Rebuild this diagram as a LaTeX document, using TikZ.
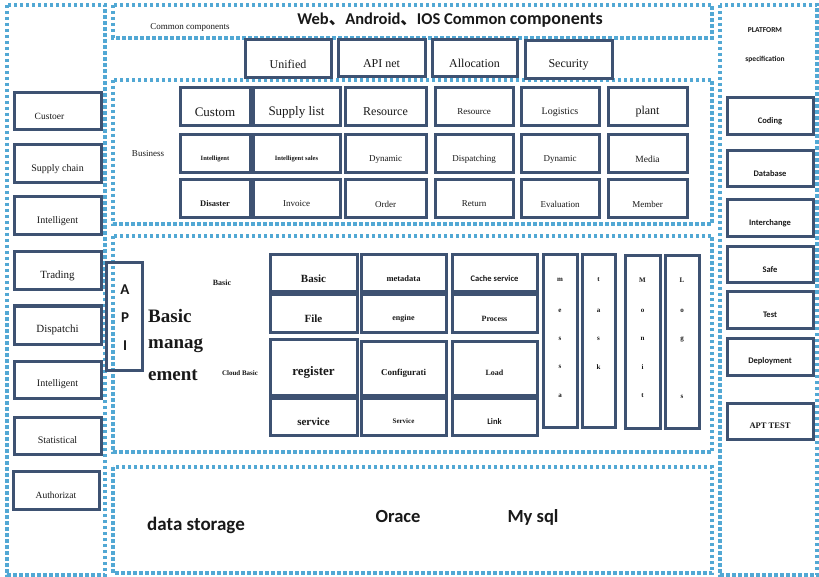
\documentclass[tikz,border=0pt]{standalone}
\usepackage{fontspec}
\setmainfont{Liberation Serif}
\newfontfamily\carl{Carlito}
\newfontfamily\cjk{Noto Sans CJK SC}
\definecolor{boxc}{RGB}{62,82,114}
\definecolor{dotc}{RGB}{82,168,212}
\definecolor{txt}{RGB}{25,25,25}
\tikzset{
  box/.style={draw=boxc,line width=3pt,inner sep=0pt,text=txt},
  dotbox/.style={draw=dotc,line width=3.2pt,dash pattern=on 3.5pt off 2.5pt},
  lbl/.style={inner sep=0pt,text=txt},
  fr/.style={font=\fontsize{#1}{#1}\selectfont},
  fb/.style={font=\fontsize{#1}{#1}\selectfont\bfseries},
  sb/.style={font=\carl\fontsize{#1}{#1}\selectfont\bfseries},
}
\newcommand\bx[7][]{\pgfmathsetmacro\bw{#5-#3}\pgfmathsetmacro\bh{#6-#4}%
  \node[box,minimum width=\bw pt,minimum height=\bh pt,#1] (#2) at ({(#3+#5)/2},{(#4+#6)/2}) {\raisebox{-5pt}[\height][\depth]{#7}};}
\begin{document}
\begin{tikzpicture}[x=1pt,y=-1pt]
\fill[white] (0,0) rectangle (819,577);
\useasboundingbox (0,0) rectangle (819,577);
% dotted containers
\draw[dotbox] (7,5) rectangle (105,575);
\draw[dotbox] (113,5) rectangle (712,38);
\draw[dotbox] (113,80) rectangle (712,224);
\draw[dotbox] (113,236) rectangle (712,452);
\draw[dotbox] (113,467) rectangle (712,573);
\draw[dotbox] (720,5) rectangle (817,575);
% top strip
\node[lbl,fr=9] (cc) at (190,27) {Common components};
\node[lbl,sb=16.5] (title) at (450,20) {Web{\cjk 、}Android{\cjk 、}IOS Common {\fontsize{18}{18}\selectfont components}};
\bx[fr=12]{unified}{245}{40}{331}{78}{Unified}
\bx[fr=12]{apinet}{338}{40}{425}{77}{API net}
\bx[fr=12]{alloc}{432}{40}{517}{77}{Allocation}
\bx[fr=12]{secur}{525}{41}{612}{79}{Security}
% left column
\bx[fr=9.5]{l1}{14}{93}{101}{130}{Custoer\hspace{16pt}}
\bx[fr=10]{l2}{14}{145}{101}{183}{Supply chain}
\bx[fr=10]{l3}{14}{197}{101}{235}{Intelligent}
\bx[fr=11]{l4}{14}{252}{101}{290}{Trading}
\bx[fr=11]{l5}{14}{306}{101}{344}{Dispatchi}
\bx[fr=10]{l6}{14}{361}{101}{398}{Intelligent}
\bx[fr=10]{l7}{14}{417}{101}{454}{Statistical}
\bx[fr=9.5]{l8}{13}{471}{99}{509}{Authorizat}
% right column
\node[lbl,sb=7.5] (plat) at (765,30) {PLATFORM};
\node[lbl,sb=7.5] (spec) at (765,59) {specification};
\bx[sb=8.5]{r1}{727}{98}{813}{135}{Coding}
\bx[sb=8.5]{r2}{727}{151}{813}{187}{Database}
\bx[sb=8.5]{r3}{727}{200}{813}{237}{Interchange}
\bx[sb=8.5]{r4}{727}{247}{813}{283}{Safe}
\bx[sb=8.5]{r5}{727}{292}{813}{328}{Test}
\bx[sb=8.5]{r6}{727}{338}{813}{375}{Deployment}
\bx[fb=8.5]{r7}{727}{403}{813}{439}{APT TEST}
% business
\node[lbl,fr=9] (bus) at (148,154) {Business};
\bx[fr=13]{b11}{180}{88}{250}{126}{Custom}
\bx[fr=13]{b12}{253}{88}{340}{126}{Supply list}
\bx[fr=12]{b13}{345}{88}{426}{126}{Resource}
\bx[fr=9]{b14}{435}{88}{513}{126}{Resource}
\bx[fr=10]{b15}{521}{88}{599}{126}{Logistics}
\bx[fr=12]{b16}{608}{88}{687}{126}{plant}
\bx[fb=6.5]{b21}{180}{135}{250}{173}{Intelligent}
\bx[fb=6.5]{b22}{253}{135}{340}{173}{Intelligent sales}
\bx[fr=9]{b23}{345}{135}{426}{173}{Dynamic}
\bx[fr=9]{b24}{435}{135}{513}{173}{Dispatching}
\bx[fr=9]{b25}{521}{135}{599}{173}{Dynamic}
\bx[fr=9.5]{b26}{608}{135}{687}{173}{Media}
\bx[fb=8.5]{b31}{180}{180}{250}{218}{Disaster}
\bx[fr=9]{b32}{253}{180}{340}{218}{Invoice}
\bx[fr=9]{b33}{345}{180}{426}{218}{Order}
\bx[fr=9]{b34}{435}{180}{513}{218}{Return}
\bx[fr=9]{b35}{521}{180}{599}{218}{Evaluation}
\bx[fr=9]{b36}{608}{180}{687}{218}{Member}
% basic
\node[box,minimum width=36pt,minimum height=107pt] (api) at (124,316.5) {};
\node[lbl,sb=15] (apiA) at (125,290) {A};
\node[lbl,sb=15] (apiP) at (125,318) {P};
\node[lbl,sb=15] (apiI) at (125,346) {I};
\node[lbl,fb=19,anchor=west,align=left] (bm1) at (148,316) {Basic};
\node[lbl,fb=19,anchor=west,align=left] (bm2) at (148,346) {manag};
\node[lbl,fb=19,anchor=west,align=left] (bm3) at (148,375) {ement};
\node[lbl,fb=8] (basiclbl) at (222,283) {Basic};
\node[lbl,fb=7] (cloudlbl) at (240,373) {Cloud Basic};
\bx[fb=11]{g11}{270}{255}{357}{292}{Basic}
\bx[fb=11]{g21}{270}{295}{357}{332}{File}
\bx[fb=13]{g31}{270}{339}{357}{395}{register}
\bx[fb=11]{g41}{270}{398}{357}{435}{service}
\bx[fb=8.5]{g12}{361}{255}{446}{292}{metadata}
\bx[fb=8]{g22}{361}{295}{446}{332}{engine}
\bx[fb=9]{g32}{361}{341}{446}{395}{Configurati}
\bx[fb=7]{g42}{361}{398}{446}{435}{Service}
\bx[sb=8.5]{g13}{452}{255}{537}{292}{Cache service}
\bx[fb=8]{g23}{452}{295}{537}{332}{Process}
\bx[fb=8]{g33}{452}{341}{537}{395}{Load}
\bx[sb=8.5]{g43}{452}{398}{537}{435}{Link}
\node[box,minimum width=34pt,minimum height=172pt] (v1) at (560,341) {};
\node[box,minimum width=33pt,minimum height=172pt] (v2) at (598.5,341) {};
\node[box,minimum width=35pt,minimum height=172pt] (v3) at (642.5,342) {};
\node[box,minimum width=34pt,minimum height=172pt] (v4) at (682,342) {};
\foreach \l/\yy [count=\i] in {m/280,e/311,s/339,s/367,a/396}
  \node[lbl,fb=7] (v1l\i) at (560,\yy) {\l};
\foreach \l/\yy [count=\i] in {t/280,a/311,s/339,k/367}
  \node[lbl,fb=7] (v2l\i) at (598.5,\yy) {\l};
\foreach \l/\yy [count=\i] in {M/280,o/311,n/339,i/367,t/396}
  \node[lbl,fb=7] (v3l\i) at (642.5,\yy) {\l};
\foreach \l/\yy [count=\i] in {L/280,o/311,g/339,s/397}
  \node[lbl,fb=7] (v4l\i) at (682,\yy) {\l};
% data storage
\node[lbl,sb=19] (ds) at (196,525) {data storage};
\node[lbl,sb=18.5] (orace) at (398,516) {Orace};
\node[lbl,sb=18.5] (mysql) at (533,517) {My sql};
\end{tikzpicture}
\end{document}
